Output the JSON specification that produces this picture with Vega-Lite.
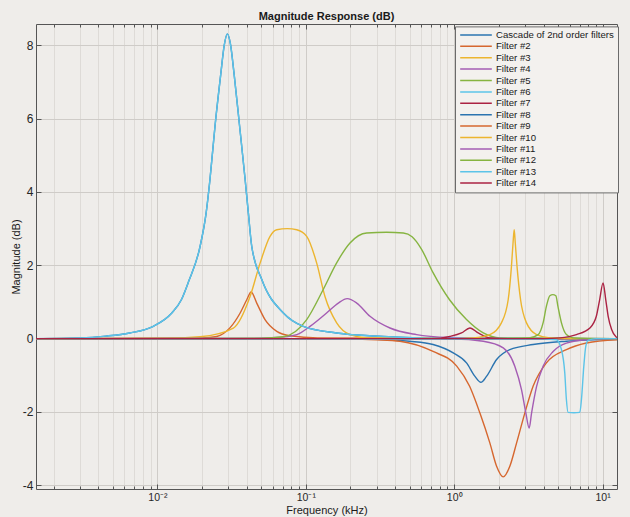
{
  "$schema": "https://vega.github.io/schema/vega-lite/v6.json",
  "width": 581,
  "height": 465,
  "autosize": {"type": "none"},
  "padding": {"left": 36, "top": 24, "right": 13, "bottom": 28},
  "background": "#efedea",
  "config": {"font": "Liberation Sans", "view": {"stroke": null}},
  "title": {"text": "Magnitude Response (dB)", "fontSize": 11, "fontWeight": "bold", "color": "#1a1a1a", "offset": 1.5, "anchor": "middle"},
  "data": {"values": [
    {"filter":"Cascade of 2nd order filters","f":0.0015,"db":0},
    {"filter":"Cascade of 2nd order filters","f":0.003,"db":0.02},
    {"filter":"Cascade of 2nd order filters","f":0.0045,"db":0.07},
    {"filter":"Cascade of 2nd order filters","f":0.0065,"db":0.155},
    {"filter":"Cascade of 2nd order filters","f":0.0093,"db":0.33},
    {"filter":"Cascade of 2nd order filters","f":0.0125,"db":0.70},
    {"filter":"Cascade of 2nd order filters","f":0.0145,"db":1.06},
    {"filter":"Cascade of 2nd order filters","f":0.0162,"db":1.55},
    {"filter":"Cascade of 2nd order filters","f":0.0194,"db":2.52},
    {"filter":"Cascade of 2nd order filters","f":0.0213,"db":3.43},
    {"filter":"Cascade of 2nd order filters","f":0.0226,"db":4.34},
    {"filter":"Cascade of 2nd order filters","f":0.0245,"db":5.84},
    {"filter":"Cascade of 2nd order filters","f":0.0267,"db":7.2},
    {"filter":"Cascade of 2nd order filters","f":0.0282,"db":8.0},
    {"filter":"Cascade of 2nd order filters","f":0.0296,"db":8.31},
    {"filter":"Cascade of 2nd order filters","f":0.031,"db":8.05},
    {"filter":"Cascade of 2nd order filters","f":0.0329,"db":7.2},
    {"filter":"Cascade of 2nd order filters","f":0.0357,"db":5.84},
    {"filter":"Cascade of 2nd order filters","f":0.039,"db":4.34},
    {"filter":"Cascade of 2nd order filters","f":0.041,"db":3.43},
    {"filter":"Cascade of 2nd order filters","f":0.0432,"db":2.52},
    {"filter":"Cascade of 2nd order filters","f":0.0505,"db":1.61},
    {"filter":"Cascade of 2nd order filters","f":0.0706,"db":0.70},
    {"filter":"Cascade of 2nd order filters","f":0.0962,"db":0.335},
    {"filter":"Cascade of 2nd order filters","f":0.161,"db":0.155},
    {"filter":"Cascade of 2nd order filters","f":0.333,"db":0.06},
    {"filter":"Cascade of 2nd order filters","f":0.8,"db":0.01},
    {"filter":"Cascade of 2nd order filters","f":12.5,"db":0},

    {"filter":"Filter #2","f":0.0015,"db":0},
    {"filter":"Filter #2","f":0.02,"db":0.02},
    {"filter":"Filter #2","f":0.0251,"db":0.06},
    {"filter":"Filter #2","f":0.0309,"db":0.3},
    {"filter":"Filter #2","f":0.0361,"db":0.70},
    {"filter":"Filter #2","f":0.040,"db":1.06},
    {"filter":"Filter #2","f":0.0428,"db":1.27},
    {"filter":"Filter #2","f":0.0467,"db":0.97},
    {"filter":"Filter #2","f":0.0531,"db":0.52},
    {"filter":"Filter #2","f":0.0637,"db":0.20},
    {"filter":"Filter #2","f":0.0783,"db":0.08},
    {"filter":"Filter #2","f":0.12,"db":0.02},
    {"filter":"Filter #2","f":12.5,"db":0},

    {"filter":"Filter #3","f":0.0015,"db":0},
    {"filter":"Filter #3","f":0.012,"db":0.01},
    {"filter":"Filter #3","f":0.0194,"db":0.05},
    {"filter":"Filter #3","f":0.0325,"db":0.29},
    {"filter":"Filter #3","f":0.0421,"db":1.15},
    {"filter":"Filter #3","f":0.0492,"db":2.06},
    {"filter":"Filter #3","f":0.0574,"db":2.79},
    {"filter":"Filter #3","f":0.0637,"db":2.97},
    {"filter":"Filter #3","f":0.075,"db":3.0},
    {"filter":"Filter #3","f":0.0869,"db":2.97},
    {"filter":"Filter #3","f":0.1014,"db":2.79},
    {"filter":"Filter #3","f":0.1184,"db":2.06},
    {"filter":"Filter #3","f":0.1346,"db":1.15},
    {"filter":"Filter #3","f":0.1614,"db":0.43},
    {"filter":"Filter #3","f":0.1985,"db":0.11},
    {"filter":"Filter #3","f":0.26,"db":0.02},
    {"filter":"Filter #3","f":12.5,"db":0},

    {"filter":"Filter #4","f":0.0015,"db":0},
    {"filter":"Filter #4","f":0.04,"db":0.01},
    {"filter":"Filter #4","f":0.0637,"db":0.03},
    {"filter":"Filter #4","f":0.0869,"db":0.11},
    {"filter":"Filter #4","f":0.1067,"db":0.335},
    {"filter":"Filter #4","f":0.138,"db":0.70},
    {"filter":"Filter #4","f":0.1656,"db":0.97},
    {"filter":"Filter #4","f":0.190,"db":1.09},
    {"filter":"Filter #4","f":0.2203,"db":0.97},
    {"filter":"Filter #4","f":0.2706,"db":0.61},
    {"filter":"Filter #4","f":0.369,"db":0.29},
    {"filter":"Filter #4","f":0.558,"db":0.11},
    {"filter":"Filter #4","f":0.93,"db":0.03},
    {"filter":"Filter #4","f":2,"db":0},
    {"filter":"Filter #4","f":12.5,"db":0},

    {"filter":"Filter #5","f":0.0015,"db":0},
    {"filter":"Filter #5","f":0.05,"db":0.01},
    {"filter":"Filter #5","f":0.0706,"db":0.05},
    {"filter":"Filter #5","f":0.1014,"db":0.52},
    {"filter":"Filter #5","f":0.131,"db":1.34},
    {"filter":"Filter #5","f":0.161,"db":2.06},
    {"filter":"Filter #5","f":0.1985,"db":2.61},
    {"filter":"Filter #5","f":0.257,"db":2.88},
    {"filter":"Filter #5","f":0.35,"db":2.9},
    {"filter":"Filter #5","f":0.454,"db":2.88},
    {"filter":"Filter #5","f":0.52,"db":2.78},
    {"filter":"Filter #5","f":0.6,"db":2.45},
    {"filter":"Filter #5","f":0.72,"db":1.8},
    {"filter":"Filter #5","f":0.93,"db":1.06},
    {"filter":"Filter #5","f":1.21,"db":0.52},
    {"filter":"Filter #5","f":1.57,"db":0.155},
    {"filter":"Filter #5","f":2.03,"db":0.02},
    {"filter":"Filter #5","f":12.5,"db":0},

    {"filter":"Filter #6","f":0.0015,"db":0},
    {"filter":"Filter #6","f":0.003,"db":0.02},
    {"filter":"Filter #6","f":0.0045,"db":0.07},
    {"filter":"Filter #6","f":0.0065,"db":0.155},
    {"filter":"Filter #6","f":0.0093,"db":0.33},
    {"filter":"Filter #6","f":0.0125,"db":0.70},
    {"filter":"Filter #6","f":0.0145,"db":1.06},
    {"filter":"Filter #6","f":0.0162,"db":1.55},
    {"filter":"Filter #6","f":0.0194,"db":2.52},
    {"filter":"Filter #6","f":0.0213,"db":3.43},
    {"filter":"Filter #6","f":0.0226,"db":4.34},
    {"filter":"Filter #6","f":0.0245,"db":5.84},
    {"filter":"Filter #6","f":0.0267,"db":7.2},
    {"filter":"Filter #6","f":0.0282,"db":8.0},
    {"filter":"Filter #6","f":0.0296,"db":8.31},
    {"filter":"Filter #6","f":0.031,"db":8.05},
    {"filter":"Filter #6","f":0.0329,"db":7.2},
    {"filter":"Filter #6","f":0.0357,"db":5.84},
    {"filter":"Filter #6","f":0.039,"db":4.34},
    {"filter":"Filter #6","f":0.041,"db":3.43},
    {"filter":"Filter #6","f":0.0432,"db":2.52},
    {"filter":"Filter #6","f":0.0505,"db":1.61},
    {"filter":"Filter #6","f":0.0706,"db":0.70},
    {"filter":"Filter #6","f":0.0962,"db":0.335},
    {"filter":"Filter #6","f":0.161,"db":0.155},
    {"filter":"Filter #6","f":0.333,"db":0.06},
    {"filter":"Filter #6","f":0.8,"db":0.01},
    {"filter":"Filter #6","f":12.5,"db":0},

    {"filter":"Filter #7","f":0.0015,"db":0},
    {"filter":"Filter #7","f":0.7,"db":0},
    {"filter":"Filter #7","f":0.935,"db":0.06},
    {"filter":"Filter #7","f":1.12,"db":0.155},
    {"filter":"Filter #7","f":1.276,"db":0.29},
    {"filter":"Filter #7","f":1.45,"db":0.155},
    {"filter":"Filter #7","f":1.74,"db":0.02},
    {"filter":"Filter #7","f":2.3,"db":0},
    {"filter":"Filter #7","f":12.5,"db":0},

    {"filter":"Filter #8","f":0.0015,"db":0},
    {"filter":"Filter #8","f":0.3,"db":-0.02},
    {"filter":"Filter #8","f":0.5,"db":-0.07},
    {"filter":"Filter #8","f":0.72,"db":-0.16},
    {"filter":"Filter #8","f":0.985,"db":-0.39},
    {"filter":"Filter #8","f":1.21,"db":-0.66},
    {"filter":"Filter #8","f":1.38,"db":-1.03},
    {"filter":"Filter #8","f":1.513,"db":-1.19},
    {"filter":"Filter #8","f":1.65,"db":-1.03},
    {"filter":"Filter #8","f":1.93,"db":-0.57},
    {"filter":"Filter #8","f":2.37,"db":-0.30},
    {"filter":"Filter #8","f":3.40,"db":-0.16},
    {"filter":"Filter #8","f":5.7,"db":-0.07},
    {"filter":"Filter #8","f":12.5,"db":-0.02},

    {"filter":"Filter #9","f":0.0015,"db":0},
    {"filter":"Filter #9","f":0.2,"db":-0.01},
    {"filter":"Filter #9","f":0.3,"db":-0.03},
    {"filter":"Filter #9","f":0.43,"db":-0.07},
    {"filter":"Filter #9","f":0.72,"db":-0.35},
    {"filter":"Filter #9","f":1.04,"db":-0.75},
    {"filter":"Filter #9","f":1.27,"db":-1.30},
    {"filter":"Filter #9","f":1.49,"db":-2.03},
    {"filter":"Filter #9","f":1.74,"db":-2.85},
    {"filter":"Filter #9","f":1.93,"db":-3.48},
    {"filter":"Filter #9","f":2.138,"db":-3.77},
    {"filter":"Filter #9","f":2.37,"db":-3.48},
    {"filter":"Filter #9","f":2.63,"db":-2.85},
    {"filter":"Filter #9","f":2.99,"db":-2.03},
    {"filter":"Filter #9","f":3.40,"db":-1.30},
    {"filter":"Filter #9","f":4.18,"db":-0.66},
    {"filter":"Filter #9","f":5.70,"db":-0.30},
    {"filter":"Filter #9","f":7.78,"db":-0.12},
    {"filter":"Filter #9","f":12.5,"db":-0.03},

    {"filter":"Filter #10","f":0.0015,"db":0},
    {"filter":"Filter #10","f":1.0,"db":0},
    {"filter":"Filter #10","f":1.34,"db":0.02},
    {"filter":"Filter #10","f":1.74,"db":0.11},
    {"filter":"Filter #10","f":2.08,"db":0.43},
    {"filter":"Filter #10","f":2.31,"db":1.06},
    {"filter":"Filter #10","f":2.43,"db":1.97},
    {"filter":"Filter #10","f":2.49,"db":2.6},
    {"filter":"Filter #10","f":2.536,"db":2.97},
    {"filter":"Filter #10","f":2.58,"db":2.6},
    {"filter":"Filter #10","f":2.65,"db":1.97},
    {"filter":"Filter #10","f":2.80,"db":1.06},
    {"filter":"Filter #10","f":3.07,"db":0.43},
    {"filter":"Filter #10","f":3.59,"db":0.11},
    {"filter":"Filter #10","f":4.41,"db":0.02},
    {"filter":"Filter #10","f":6,"db":0},
    {"filter":"Filter #10","f":12.5,"db":0},

    {"filter":"Filter #11","f":0.0015,"db":0},
    {"filter":"Filter #11","f":1.0,"db":-0.01},
    {"filter":"Filter #11","f":1.57,"db":-0.07},
    {"filter":"Filter #11","f":2.14,"db":-0.25},
    {"filter":"Filter #11","f":2.56,"db":-0.75},
    {"filter":"Filter #11","f":2.84,"db":-1.39},
    {"filter":"Filter #11","f":3.04,"db":-2.03},
    {"filter":"Filter #11","f":3.20,"db":-2.44},
    {"filter":"Filter #11","f":3.32,"db":-2.03},
    {"filter":"Filter #11","f":3.59,"db":-1.30},
    {"filter":"Filter #11","f":3.97,"db":-0.75},
    {"filter":"Filter #11","f":4.64,"db":-0.35},
    {"filter":"Filter #11","f":5.70,"db":-0.12},
    {"filter":"Filter #11","f":7.8,"db":-0.03},
    {"filter":"Filter #11","f":12.5,"db":0},

    {"filter":"Filter #12","f":0.0015,"db":0},
    {"filter":"Filter #12","f":2.5,"db":0},
    {"filter":"Filter #12","f":3.2,"db":0.02},
    {"filter":"Filter #12","f":3.68,"db":0.11},
    {"filter":"Filter #12","f":3.97,"db":0.43},
    {"filter":"Filter #12","f":4.18,"db":0.88},
    {"filter":"Filter #12","f":4.41,"db":1.17},
    {"filter":"Filter #12","f":4.62,"db":1.2},
    {"filter":"Filter #12","f":4.84,"db":1.17},
    {"filter":"Filter #12","f":5.0,"db":0.88},
    {"filter":"Filter #12","f":5.28,"db":0.43},
    {"filter":"Filter #12","f":5.70,"db":0.11},
    {"filter":"Filter #12","f":6.3,"db":0.02},
    {"filter":"Filter #12","f":8,"db":0},
    {"filter":"Filter #12","f":12.5,"db":0},

    {"filter":"Filter #13","f":0.0015,"db":0},
    {"filter":"Filter #13","f":4.0,"db":-0.01},
    {"filter":"Filter #13","f":4.88,"db":-0.03},
    {"filter":"Filter #13","f":5.28,"db":-0.30},
    {"filter":"Filter #13","f":5.56,"db":-0.94},
    {"filter":"Filter #13","f":5.70,"db":-1.66},
    {"filter":"Filter #13","f":5.85,"db":-2.01},
    {"filter":"Filter #13","f":6.4,"db":-2.02},
    {"filter":"Filter #13","f":7.02,"db":-2.01},
    {"filter":"Filter #13","f":7.2,"db":-1.66},
    {"filter":"Filter #13","f":7.47,"db":-0.75},
    {"filter":"Filter #13","f":7.7,"db":-0.21},
    {"filter":"Filter #13","f":7.99,"db":-0.05},
    {"filter":"Filter #13","f":9,"db":0},
    {"filter":"Filter #13","f":12.5,"db":0},

    {"filter":"Filter #14","f":0.0015,"db":0},
    {"filter":"Filter #14","f":4.0,"db":0},
    {"filter":"Filter #14","f":5.15,"db":0.02},
    {"filter":"Filter #14","f":6.66,"db":0.11},
    {"filter":"Filter #14","f":8.2,"db":0.29},
    {"filter":"Filter #14","f":9.07,"db":0.61},
    {"filter":"Filter #14","f":9.55,"db":1.06},
    {"filter":"Filter #14","f":10.07,"db":1.52},
    {"filter":"Filter #14","f":10.5,"db":1.06},
    {"filter":"Filter #14","f":10.9,"db":0.61},
    {"filter":"Filter #14","f":11.5,"db":0.25},
    {"filter":"Filter #14","f":12.3,"db":0.05},
    {"filter":"Filter #14","f":12.5,"db":0.03}
  ]},
  "layer": [
    {
      "mark": {"type": "line", "strokeWidth": 1.4, "interpolate": "monotone", "clip": true},
      "encoding": {
        "x": {
          "field": "f", "type": "quantitative",
          "scale": {"type": "log", "domain": [0.00152, 12.5], "nice": false},
          "axis": {
            "orient": "bottom",
            "values": [0.002,0.003,0.004,0.005,0.006,0.007,0.008,0.009,0.01,0.02,0.03,0.04,0.05,0.06,0.07,0.08,0.09,0.1,0.2,0.3,0.4,0.5,0.6,0.7,0.8,0.9,1,2,3,4,5,6,7,8,9,10],
            "labelExpr": "datum.value == 0.01 ? '10⁻²' : datum.value == 0.1 ? '10⁻¹' : datum.value == 1 ? '10⁰' : datum.value == 10 ? '10¹' : ''",
            "labelFontSize": 10.5, "labelColor": "#262626", "labelPadding": 8,
            "labelOverlap": false, "labelBound": false, "labelFlush": false,
            "title": "Frequency (kHz)", "titleFontSize": 11, "titleFontWeight": "normal", "titleColor": "#1a1a1a", "titlePadding": -0.5,
            "domainColor": "#555555", "tickColor": "#555555",
            "tickSize": {"condition": {"test": "datum.value == 0.01 || datum.value == 0.1 || datum.value == 1 || datum.value == 10", "value": -5}, "value": -3},
            "grid": true,
            "gridColor": {"condition": {"test": "datum.value == 0.01 || datum.value == 0.1 || datum.value == 1 || datum.value == 10", "value": "#cfccc8"}, "value": "#dedbd7"}
          }
        },
        "y": {
          "field": "db", "type": "quantitative",
          "scale": {"domain": [-4.1, 8.58], "nice": false, "zero": false},
          "axis": {
            "orient": "left",
            "values": [-4,-2,0,2,4,6,8],
            "labelExpr": "datum.value < 0 ? '-' + abs(datum.value) : '' + datum.value",
            "labelFontSize": 12, "labelColor": "#262626", "labelPadding": 8,
            "title": "Magnitude (dB)", "titleFontSize": 11, "titleFontWeight": "normal", "titleColor": "#1a1a1a", "titlePadding": 1,
            "domainColor": "#555555", "tickColor": "#555555", "tickSize": -5,
            "grid": true, "gridColor": "#cfccc8"
          }
        },
        "color": {
          "field": "filter", "type": "nominal",
          "scale": {
            "domain": ["Cascade of 2nd order filters","Filter #2","Filter #3","Filter #4","Filter #5","Filter #6","Filter #7","Filter #8","Filter #9","Filter #10","Filter #11","Filter #12","Filter #13","Filter #14"],
            "range": ["#2b74b0","#d6672f","#ecb52f","#a45cb3","#86b441","#5cc4e8","#ab2343","#2b74b0","#d6672f","#ecb52f","#a45cb3","#86b441","#5cc4e8","#ab2343"]
          },
          "legend": {
            "title": null, "orient": "none", "legendX": 419, "legendY": 2.4,
            "symbolType": "stroke", "symbolSize": 1000, "symbolStrokeWidth": 1.5,
            "labelFontSize": 9.6, "labelColor": "#1a1a1a", "labelOffset": 3,
            "clipHeight": 9, "rowPadding": 0.4,
            "padding": 4, "strokeColor": "#6b6b6b", "fillColor": "#f3f1ee"
          }
        }
      }
    },
    {
      "mark": {"type": "line", "opacity": 0},
      "encoding": {
        "x": {
          "field": "f", "type": "quantitative",
          "scale": {"type": "log", "domain": [0.00152, 12.5], "nice": false},
          "axis": {
            "orient": "top", "labels": false, "title": null, "grid": false,
            "values": [0.002,0.003,0.004,0.005,0.006,0.007,0.008,0.009,0.01,0.02,0.03,0.04,0.05,0.06,0.07,0.08,0.09,0.1,0.2,0.3,0.4,0.5,0.6,0.7,0.8,0.9,1,2,3,4,5,6,7,8,9,10],
            "domainColor": "#555555", "tickColor": "#555555",
            "tickSize": {"condition": {"test": "datum.value == 0.01 || datum.value == 0.1 || datum.value == 1 || datum.value == 10", "value": -5}, "value": -3}
          }
        },
        "y": {
          "field": "db", "type": "quantitative",
          "scale": {"domain": [-4.1, 8.58], "nice": false, "zero": false},
          "axis": {
            "orient": "right", "labels": false, "title": null, "grid": false,
            "values": [-4,-2,0,2,4,6,8],
            "domainColor": "#555555", "tickColor": "#555555", "tickSize": -5
          }
        },
        "detail": {"field": "filter", "type": "nominal"}
      }
    }
  ],
  "resolve": {"axis": {"x": "independent", "y": "independent"}}
}
